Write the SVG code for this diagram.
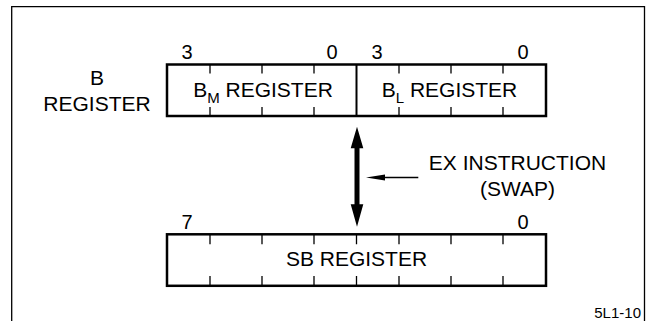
<svg xmlns="http://www.w3.org/2000/svg" width="649" height="321" viewBox="0 0 649 321">
<style>
text{font-family:"Liberation Sans",Arial,sans-serif;fill:#000}
.lbl{font-size:21px}
.num{font-size:20px}
.box{fill:#fff;stroke:#000;stroke-width:2.5}
.tick{stroke:#000;stroke-width:1.3}
</style>
<rect width="649" height="321" fill="#fff"/>
<path d="M11.7 321V6.7H644.5V321" fill="none" stroke="#000" stroke-width="1.3"/>
<g id="b-label">
<text class="lbl" x="97" y="85" text-anchor="middle">B</text>
<text class="lbl" x="97" y="110.7" text-anchor="middle">REGISTER</text>
</g>
<g id="b-register">
<rect class="box" x="167" y="64.5" width="379" height="51.5"/>
<line x1="356.5" y1="64.5" x2="356.5" y2="116" stroke="#000" stroke-width="2"/>
<path class="tick" d="M210 64.5v9M262 64.5v9M314 64.5v9M399 64.5v9M451 64.5v9M503 64.5v9M210 107v9M262 107v9M314 107v9M399 107v9M451 107v9M503 107v9"/>
<text class="num" x="187" y="59" text-anchor="middle">3</text>
<text class="num" x="332" y="59" text-anchor="middle">0</text>
<text class="num" x="377" y="59" text-anchor="middle">3</text>
<text class="num" x="523" y="59" text-anchor="middle">0</text>
<text class="lbl" x="263" y="97.3" text-anchor="middle">B<tspan font-size="15" dy="6">M</tspan><tspan dy="-6"> REGISTER</tspan></text>
<text class="lbl" x="449.5" y="97.3" text-anchor="middle">B<tspan font-size="15" dy="6">L</tspan><tspan dy="-6"> REGISTER</tspan></text>
</g>
<g id="sb-register">
<rect class="box" x="167" y="234.3" width="379" height="51.5"/>
<path class="tick" d="M210 234.3v10M262 234.3v10M314 234.3v10M356.5 234.3v10M399 234.3v10M451 234.3v10M503 234.3v10M210 276v10M262 276v10M314 276v10M356.5 276v10M399 276v10M451 276v10M503 276v10"/>
<text class="num" x="187" y="228.5" text-anchor="middle">7</text>
<text class="num" x="523" y="228.5" text-anchor="middle">0</text>
<text class="lbl" x="356.5" y="265.7" text-anchor="middle">SB REGISTER</text>
</g>
<g id="ex-label">
<text class="lbl" x="517.5" y="170" text-anchor="middle">EX INSTRUCTION</text>
<text class="lbl" x="517.5" y="196" text-anchor="middle">(SWAP)</text>
</g>
<g id="connectors">
<path d="M357 126.7L363.3 148.3H359.5V204.3H363.3L357 226.7L350.7 204.3H354.5V148.3H350.7Z" fill="#000"/>
<line x1="384" y1="177.5" x2="418.3" y2="177.5" stroke="#000" stroke-width="1.3"/>
<path d="M366 177.5L385 174.5V180.5Z" fill="#000"/>
</g>
<text x="641" y="317.7" font-size="15" text-anchor="end">5L1-10</text>
</svg>
